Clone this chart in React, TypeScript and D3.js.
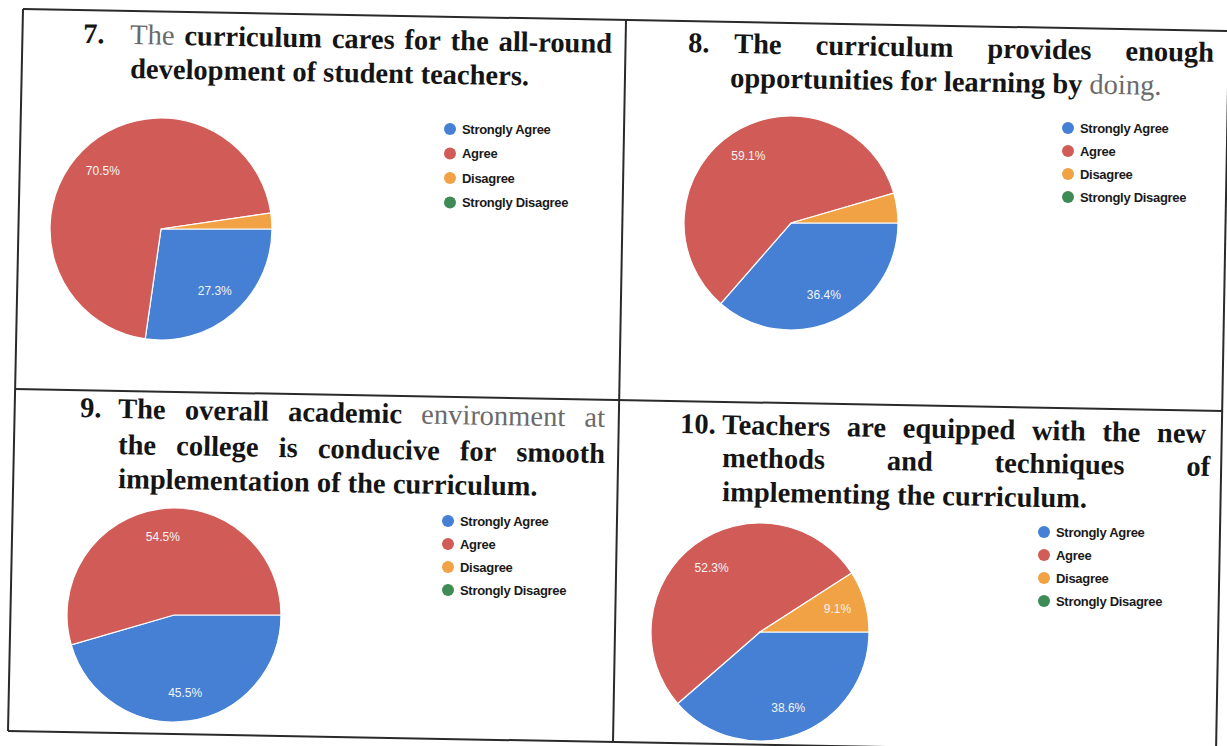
import React from "react";
import * as d3 from "d3";

// Survey answer categories and their colours
const categories = ["Strongly Agree", "Agree", "Disagree", "Strongly Disagree"];
const sliceColors = ["#4580d5", "#d15c57", "#f0a244", "#3f8b55"];

// Percentage of respondents per category, one array per question
const q7Values = [27.3, 70.5, 2.3, 0];
const q8Values = [36.4, 59.1, 4.5, 0];
const q9Values = [45.5, 54.5, 0, 0];
const q10Values = [38.6, 52.3, 9.1, 0];

// Question texts, split into their printed lines (g = lighter grey word)
type Word = { t: string; g?: boolean };
const w = (s: string): Word[] => s.split(" ").map((t) => ({ t }));
const gw = (s: string): Word[] => s.split(" ").map((t) => ({ t, g: true }));

const q7Number = "7.";
const q7Lines: Word[][] = [
  [...gw("The"), ...w("curriculum cares for the all-round")],
  w("development of student teachers."),
];
const q8Number = "8.";
const q8Lines: Word[][] = [
  w("The curriculum provides enough"),
  [...w("opportunities for learning by"), ...gw("doing.")],
];
const q9Number = "9.";
const q9Lines: Word[][] = [
  [...w("The overall academic"), ...gw("environment at")],
  w("the college is conducive for smooth"),
  w("implementation of the curriculum."),
];
const q10Number = "10.";
const q10Lines: Word[][] = [
  w("Teachers are equipped with the new"),
  w("methods and techniques of"),
  w("implementing the curriculum."),
];

const W = 1227;
const H = 746;
const TILT = 1.05;
const TITLE_SIZE = 28.5;
const SERIF = "'Liberation Serif', 'Times New Roman', serif";
const SANS = "'Liberation Sans', Arial, sans-serif";

let ctx: CanvasRenderingContext2D | null = null;
function measure(word: Word): number {
  if (!ctx) ctx = document.createElement("canvas").getContext("2d");
  if (!ctx) return word.t.length * TITLE_SIZE * 0.5;
  ctx.font = `${word.g ? "normal" : "bold"} ${TITLE_SIZE}px ${SERIF}`;
  return ctx.measureText(word.t).width;
}

type LineSpec = { x0: number; x1?: number; y: number };

function TitleLine({ words, spec }: { words: Word[]; spec: LineSpec }) {
  const widths = words.map(measure);
  const space = (() => {
    if (!ctx) return TITLE_SIZE * 0.25;
    ctx.font = `bold ${TITLE_SIZE}px ${SERIF}`;
    return ctx.measureText(" ").width;
  })();
  const total = d3.sum(widths);
  const gap =
    spec.x1 !== undefined && words.length > 1
      ? (spec.x1 - spec.x0 - total) / (words.length - 1)
      : space;
  let x = spec.x0;
  const xs = widths.map((wd) => {
    const cur = x;
    x += wd + gap;
    return cur;
  });
  return (
    <g transform={`rotate(${TILT}, ${spec.x0}, ${spec.y})`}>
      {words.map((wd, i) => (
        <text
          key={i}
          x={xs[i]}
          y={spec.y}
          fontFamily={SERIF}
          fontSize={TITLE_SIZE}
          fontWeight={wd.g ? "normal" : "bold"}
          fill={wd.g ? "#6a6a6a" : "#151515"}
        >
          {wd.t}
        </text>
      ))}
    </g>
  );
}

function Title({
  num,
  numX,
  lines,
  specs,
}: {
  num: string;
  numX: number;
  lines: Word[][];
  specs: LineSpec[];
}) {
  return (
    <g>
      <g transform={`rotate(${TILT}, ${numX}, ${specs[0].y - 1})`}>
        <text
          x={numX}
          y={specs[0].y - 1}
          fontFamily={SERIF}
          fontSize={TITLE_SIZE}
          fontWeight="bold"
          fill="#151515"
        >
          {num}
        </text>
      </g>
      {lines.map((ln, i) => (
        <TitleLine key={i} words={ln} spec={specs[i]} />
      ))}
    </g>
  );
}

function Pie({
  values,
  cx,
  cy,
  r,
}: {
  values: number[];
  cx: number;
  cy: number;
  r: number;
}) {
  const pie = d3
    .pie<number>()
    .sort(null)
    .value((d) => d)
    .startAngle(Math.PI / 2)
    .endAngle(Math.PI / 2 + 2 * Math.PI);
  const arcs = pie(values);
  const arc = d3.arc<d3.PieArcDatum<number>>().innerRadius(0).outerRadius(r);
  const labelArc = d3
    .arc<d3.PieArcDatum<number>>()
    .innerRadius(r * 0.74)
    .outerRadius(r * 0.74);
  return (
    <g transform={`translate(${cx},${cy})`}>
      {arcs.map((a, i) =>
        a.value > 0 ? (
          <path
            key={i}
            d={arc(a) || ""}
            fill={sliceColors[i]}
            stroke="#ffffff"
            strokeWidth={1.2}
          />
        ) : null
      )}
      {arcs.map((a, i) => {
        if (a.value < 5) return null;
        const [lx, ly] = labelArc.centroid(a);
        return (
          <text
            key={`l${i}`}
            x={lx}
            y={ly}
            textAnchor="middle"
            dominantBaseline="central"
            fontFamily={SANS}
            fontSize={12}
            fill="#f4f4f4"
          >
            {`${a.value.toFixed(1)}%`}
          </text>
        );
      })}
    </g>
  );
}

function Legend({ x, y, step }: { x: number; y: number; step: number }) {
  return (
    <g>
      {categories.map((c, i) => (
        <g key={c} transform={`translate(${x},${y + i * step})`}>
          <circle cx={0} cy={0} r={6} fill={sliceColors[i]} />
          <text
            x={12}
            y={0}
            dominantBaseline="central"
            fontFamily={SANS}
            fontSize={13}
            fontWeight="bold"
            fill="#1a1a1a"
            letterSpacing={-0.3}
          >
            {c}
          </text>
        </g>
      ))}
    </g>
  );
}

export default function App() {
  // table grid lines (the printed grid is slightly tilted)
  const gridLines: [number, number, number, number][] = [
    [23, 9, 1229, 31],
    [1229, 31, 1216, 753],
    [1216, 753, 8, 731],
    [8, 731, 23, 9],
    [626, 20, 613, 742],
    [15, 389, 1223, 411],
  ];
  return (
    <div style={{ position: "absolute", left: 0, top: 0 }}>
      <svg width={W} height={H} viewBox={`0 0 ${W} ${H}`} style={{ display: "block", background: "#ffffff" }}>
        <rect width={W} height={H} fill="#ffffff" />
        {gridLines.map((l, i) => (
          <line
            key={i}
            x1={l[0]}
            y1={l[1]}
            x2={l[2]}
            y2={l[3]}
            stroke="#2a2a2a"
            strokeWidth={2}
          />
        ))}

        <Title
          num={q7Number}
          numX={83}
          lines={q7Lines}
          specs={[
            { x0: 130, x1: 612, y: 44 },
            { x0: 130, y: 78 },
          ]}
        />
        <Title
          num={q8Number}
          numX={688}
          lines={q8Lines}
          specs={[
            { x0: 734, x1: 1214, y: 53 },
            { x0: 730, y: 87 },
          ]}
        />
        <Title
          num={q9Number}
          numX={80}
          lines={q9Lines}
          specs={[
            { x0: 118, x1: 605, y: 418 },
            { x0: 118, x1: 605, y: 454 },
            { x0: 118, y: 488 },
          ]}
        />
        <Title
          num={q10Number}
          numX={680}
          lines={q10Lines}
          specs={[
            { x0: 722, x1: 1206, y: 434 },
            { x0: 722, x1: 1210, y: 467 },
            { x0: 722, y: 501 },
          ]}
        />

        <Pie values={q7Values} cx={161} cy={229} r={111} />
        <Pie values={q8Values} cx={791} cy={223} r={107} />
        <Pie values={q9Values} cx={174} cy={615} r={107} />
        <Pie values={q10Values} cx={760} cy={632} r={109} />

        <Legend x={450} y={129} step={24.5} />
        <Legend x={1068} y={128} step={23} />
        <Legend x={448} y={521} step={23} />
        <Legend x={1044} y={532} step={23} />
      </svg>
    </div>
  );
}
